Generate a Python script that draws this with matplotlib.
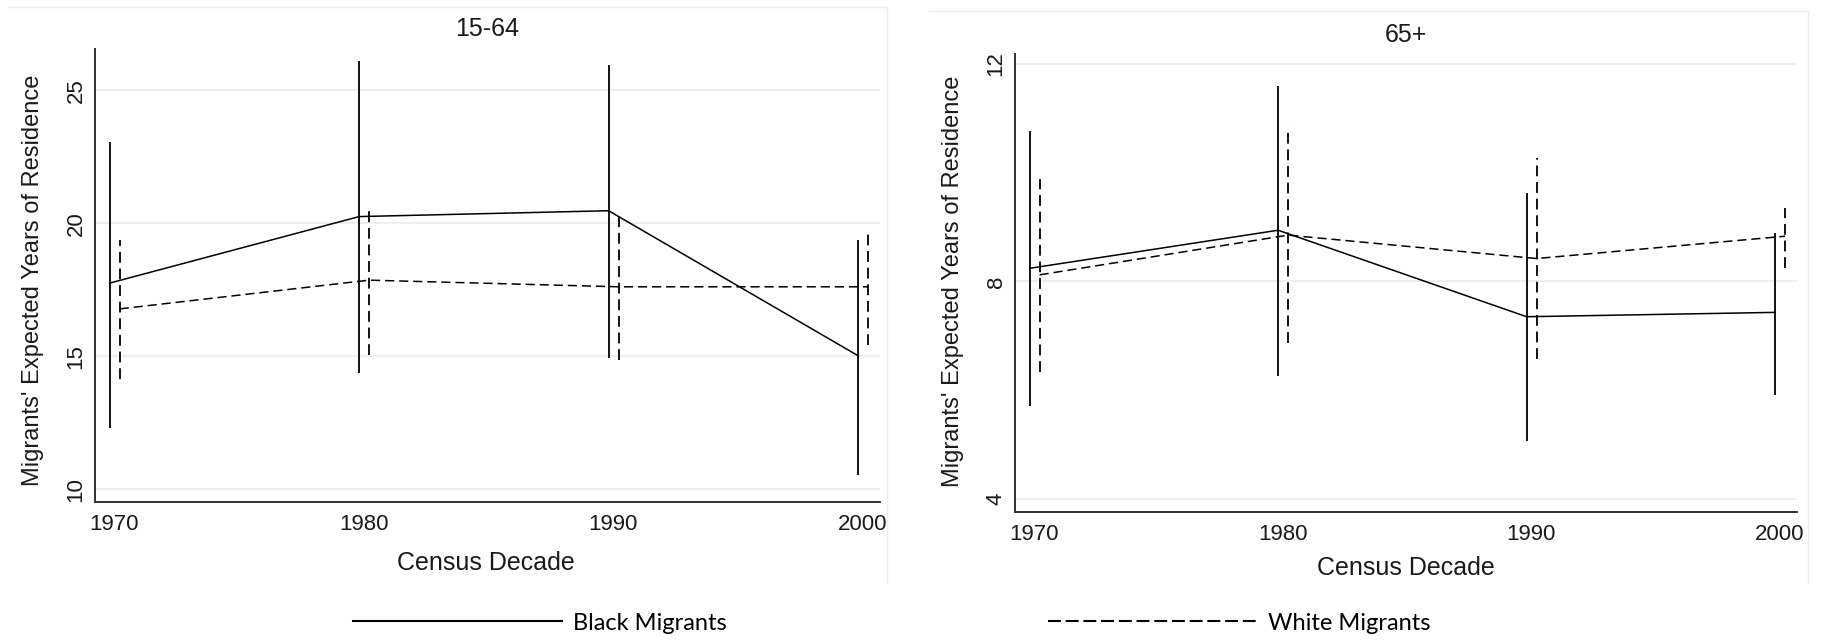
import numpy as np
import matplotlib
matplotlib.use("Agg")
import matplotlib.pyplot as plt
from matplotlib.lines import Line2D

plt.rcParams['font.family'] = ['Liberation Sans', 'DejaVu Sans']

years = np.array([1970, 1980, 1990, 2000])

# 15-64
blk_1564 = [17.75, 20.25, 20.47, 15.02]
blk_1564_lo = [12.31, 14.38, 14.93, 10.52]
blk_1564_hi = [23.05, 26.11, 25.94, 19.36]
wht_1564 = [16.78, 17.86, 17.61, 17.61]
wht_1564_lo = [14.14, 15.06, 14.86, 15.41]
wht_1564_hi = [19.37, 20.57, 20.29, 19.70]

# 65+
blk_65 = [8.24, 8.94, 7.35, 7.43]
blk_65_lo = [5.70, 6.26, 5.07, 5.91]
blk_65_hi = [10.77, 11.60, 9.62, 8.89]
wht_65 = [8.12, 8.85, 8.42, 8.83]
wht_65_lo = [6.34, 6.87, 6.57, 8.25]
wht_65_hi = [9.89, 10.84, 10.26, 9.34]

titles = ["15-64", "65+"]
yticks = [[10, 15, 20, 25], [4, 8, 12]]
ylims = [(9.52, 26.55), (3.76, 12.18)]

W, H = 1826, 641
fig = plt.figure(figsize=(W / 100, H / 100), dpi=100)

dash = (0, (6, 3.2))

def px(x0, y0, x1, y1):
    return [x0 / W, 1 - y1 / H, (x1 - x0) / W, (y1 - y0) / H]

ax1 = fig.add_axes(px(95, 49, 880, 502))
ax2 = fig.add_axes(px(1015, 54, 1797, 512))

data = [
    (blk_1564, blk_1564_lo, blk_1564_hi, wht_1564, wht_1564_lo, wht_1564_hi),
    (blk_65, blk_65_lo, blk_65_hi, wht_65, wht_65_lo, wht_65_hi),
]

for i, ax in enumerate([ax1, ax2]):
    b, blo, bhi, w, wlo, whi = data[i]
    xb = years - 0.18
    xw = years + 0.22
    ax.plot(xb, b, color='black', lw=1.1)
    ax.plot(xw, w, color='black', lw=1.1, linestyle=dash)
    ax.vlines(xb, blo, bhi, color='black', lw=1.3)
    ax.vlines(xw, wlo, whi, color='black', lw=1.3, linestyles=dash)

    ax.set_xlim(1969.23, 2000.7)
    ax.set_ylim(*ylims[i])
    ax.set_xticks(years)
    ax.set_yticks(yticks[i])
    ax.grid(axis='y', color='#ebebeb', lw=1.2)
    ax.set_axisbelow(True)
    for s in ['top', 'right']:
        ax.spines[s].set_visible(False)
    for s in ['left', 'bottom']:
        ax.spines[s].set_color('#303030')
        ax.spines[s].set_linewidth(1.4)
    ax.tick_params(axis='both', length=0, labelsize=16, colors='#1a1a1a')
    ax.tick_params(axis='x', pad=9)
    ax.tick_params(axis='y', pad=6, labelrotation=90)
    for lab in ax.get_yticklabels():
        lab.set_va('center')
    ax.set_title(titles[i], fontsize=18, pad=9, color='#1a1a1a')

# axis labels
fig.text(486 / W, 1 - 563 / H, "Census Decade", ha='center', va='center', fontsize=18, color='#1a1a1a')
fig.text(1406 / W, 1 - 568 / H, "Census Decade", ha='center', va='center', fontsize=18, color='#1a1a1a')
fig.text(33 / W, 1 - 280 / H, "Migrants' Expected Years of Residence", rotation=90,
         ha='center', va='center', fontsize=17, color='#1a1a1a')
fig.text(953 / W, 1 - 281 / H, "Migrants' Expected Years of Residence", rotation=90,
         ha='center', va='center', fontsize=17, color='#1a1a1a')

# faint panel borders
border = '#e9eef3'
fig.add_artist(Line2D([8 / W, 887 / W], [1 - 7 / H, 1 - 7 / H], color=border, lw=1))
fig.add_artist(Line2D([887 / W, 887 / W], [1 - 7 / H, 1 - 583 / H], color=border, lw=1))
fig.add_artist(Line2D([929 / W, 1808 / W], [1 - 11 / H, 1 - 11 / H], color=border, lw=1))
fig.add_artist(Line2D([1808 / W, 1808 / W], [1 - 11 / H, 1 - 583 / H], color=border, lw=1))

# legend
h_blk = Line2D([], [], color='black', lw=1.5)
h_wht = Line2D([], [], color='black', lw=1.5, linestyle=(0, (6.2, 2.3)))
fs_px = 17 * 100 / 72
for h, lab, x0 in [(h_blk, "Black Migrants", 353), (h_wht, "White Migrants", 1048)]:
    leg = fig.legend([h], [lab], loc='center left', bbox_to_anchor=(x0 / W, 1 - 623 / H),
                     frameon=False, borderpad=0, borderaxespad=0, handlelength=209 / fs_px,
                     handletextpad=0.45, prop={'family': 'Lato', 'size': 17})

fig.savefig("out.png", dpi=100)
